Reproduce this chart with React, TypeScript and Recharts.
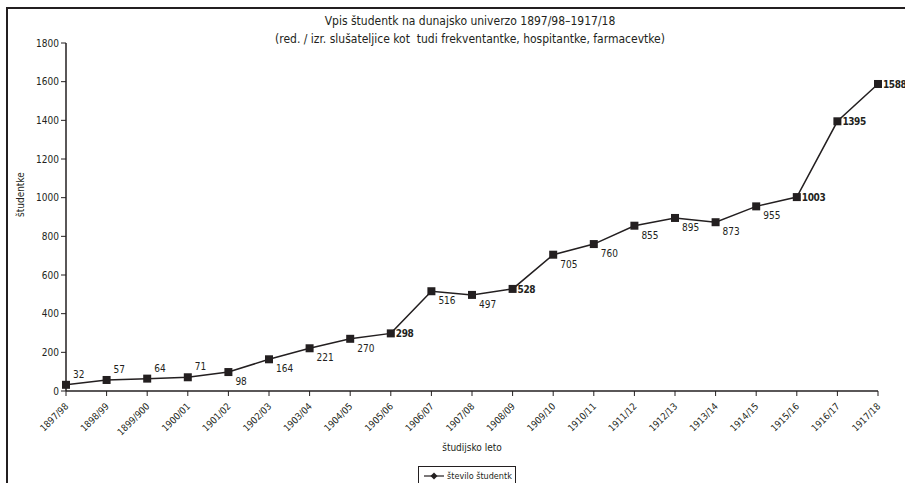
import { LineChart, Line, XAxis, YAxis, LabelList, Legend } from 'recharts';

// Študijska leta in število vpisanih študentk
const years = [
  '1897/98', '1898/99', '1899/900', '1900/01', '1901/02', '1902/03', '1903/04',
  '1904/05', '1905/06', '1906/07', '1907/08', '1908/09', '1909/10', '1910/11',
  '1911/12', '1912/13', '1913/14', '1914/15', '1915/16', '1916/17', '1917/18',
];
const students = [32, 57, 64, 71, 98, 164, 221, 270, 298, 516, 497, 528, 705, 760, 855, 895, 873, 955, 1003, 1395, 1588];
const yTicks = [0, 200, 400, 600, 800, 1000, 1200, 1400, 1600, 1800];

// kje stoji oznaka: 'up' = zgoraj desno, 'right' = desno (krepko), 'down' = spodaj desno
const labelPlace = [
  'up', 'up', 'up', 'up', 'down', 'down', 'down', 'down', 'right', 'down', 'down',
  'right', 'down', 'down', 'down', 'down', 'down', 'down', 'right', 'right', 'right',
];

const data = years.map((year, i) => ({ year, value: students[i] }));

const INK = '#231f20';
const FONT = '"DejaVu Sans Condensed", "Liberation Sans Narrow", sans-serif';

const Square = (props: any) => {
  const { cx, cy } = props;
  if (cx == null || cy == null) return null;
  return <rect x={cx - 4} y={cy - 4} width={8} height={8} fill={INK} />;
};

const ValueLabel = (props: any) => {
  const { x, y, value, index } = props;
  const place = labelPlace[index];
  if (place === 'up') {
    return (
      <text x={x + 7} y={y - 7} fontSize={10} fill={INK} fontFamily={FONT}>
        {value}
      </text>
    );
  }
  if (place === 'right') {
    return (
      <text x={x + 5} y={y + 4} fontSize={10} fontWeight="bold" fill={INK} fontFamily={FONT} letterSpacing={-0.4}>
        {value}
      </text>
    );
  }
  return (
    <text x={x + 7} y={y + 13} fontSize={10} fill={INK} fontFamily={FONT}>
      {value}
    </text>
  );
};

const XTick = (props: any) => {
  const { x, y, payload } = props;
  return (
    <text
      x={x + 3}
      y={y + 9}
      fontSize={9.5}
      fill={INK}
      fontFamily={FONT}
      textAnchor="end"
      transform={`rotate(-45, ${x + 3}, ${y + 9})`}
    >
      {payload.value}
    </text>
  );
};

const LegendBox = () => (
  <div
    style={{
      border: `1px solid ${INK}`,
      height: 24,
      width: 98,
      boxSizing: 'border-box',
      display: 'flex',
      alignItems: 'flex-start',
      paddingTop: 3,
      fontFamily: FONT,
      fontSize: 9,
      color: INK,
      whiteSpace: 'nowrap',
    }}
  >
    <svg width={20} height={12} style={{ marginLeft: 5, flex: 'none' }}>
      <line x1={0} y1={6} x2={20} y2={6} stroke={INK} strokeWidth={1.2} />
      <rect x={7.5} y={3.5} width={5} height={5} fill={INK} transform="rotate(45, 10, 6)" />
    </svg>
    <span style={{ marginLeft: 3, lineHeight: '12px' }}>število študentk</span>
  </div>
);

const App = () => {
  return (
    <div
      style={{
        position: 'absolute',
        left: 0,
        top: 0,
        width: 905,
        height: 483,
        overflow: 'hidden',
        background: '#fff',
      }}
    >
      <div
        style={{
          position: 'absolute',
          left: 6,
          top: 7,
          width: 1000,
          height: 1000,
          borderLeft: `2px solid ${INK}`,
          borderTop: `2px solid ${INK}`,
        }}
      />
      <div
        style={{
          position: 'absolute',
          left: 0,
          top: 12,
          width: 940,
          textAlign: 'center',
          fontFamily: FONT,
          fontSize: 12,
          lineHeight: '18px',
          color: INK,
        }}
      >
        Vpis študentk na dunajsko univerzo 1897/98–1917/18
        <br />
        (red. / izr. slušateljice kot&nbsp; tudi frekventantke, hospitantke, farmacevtke)
      </div>
      <LineChart
        width={905}
        height={483}
        data={data}
        margin={{ top: 43, right: 27, bottom: 42, left: 0 }}
        style={{ position: 'absolute', left: 0, top: 0 }}
      >
        <XAxis
          dataKey="year"
          height={50}
          tick={<XTick />}
          tickLine={{ stroke: INK }}
          axisLine={{ stroke: INK, strokeWidth: 1.5 }}
          tickSize={5}
          interval={0}
          label={{
            value: 'študijsko leto',
            position: 'insideBottom',
            offset: -10,
            fill: INK,
            fontSize: 10,
            fontFamily: FONT,
          }}
        />
        <YAxis
          width={66}
          domain={[0, 1800]}
          ticks={yTicks}
          tick={{ fill: INK, fontSize: 10, fontFamily: FONT }}
          tickLine={{ stroke: INK }}
          axisLine={{ stroke: INK, strokeWidth: 1.5 }}
          tickSize={5}
          label={{
            value: 'študentke',
            angle: -90,
            position: 'insideLeft',
            offset: 20,
            fill: INK,
            fontSize: 10,
            fontFamily: FONT,
          }}
        />
        <Legend
          layout="horizontal"
          verticalAlign="middle"
          align="center"
          content={<LegendBox />}
          wrapperStyle={{ left: 418, top: 466, width: 98, height: 24 }}
        />
        <Line
          type="linear"
          dataKey="value"
          name="število študentk"
          stroke={INK}
          strokeWidth={1.5}
          dot={<Square />}
          activeDot={false}
          isAnimationActive={false}
        >
          <LabelList dataKey="value" content={<ValueLabel />} />
        </Line>
      </LineChart>
    </div>
  );
};

export default App;
